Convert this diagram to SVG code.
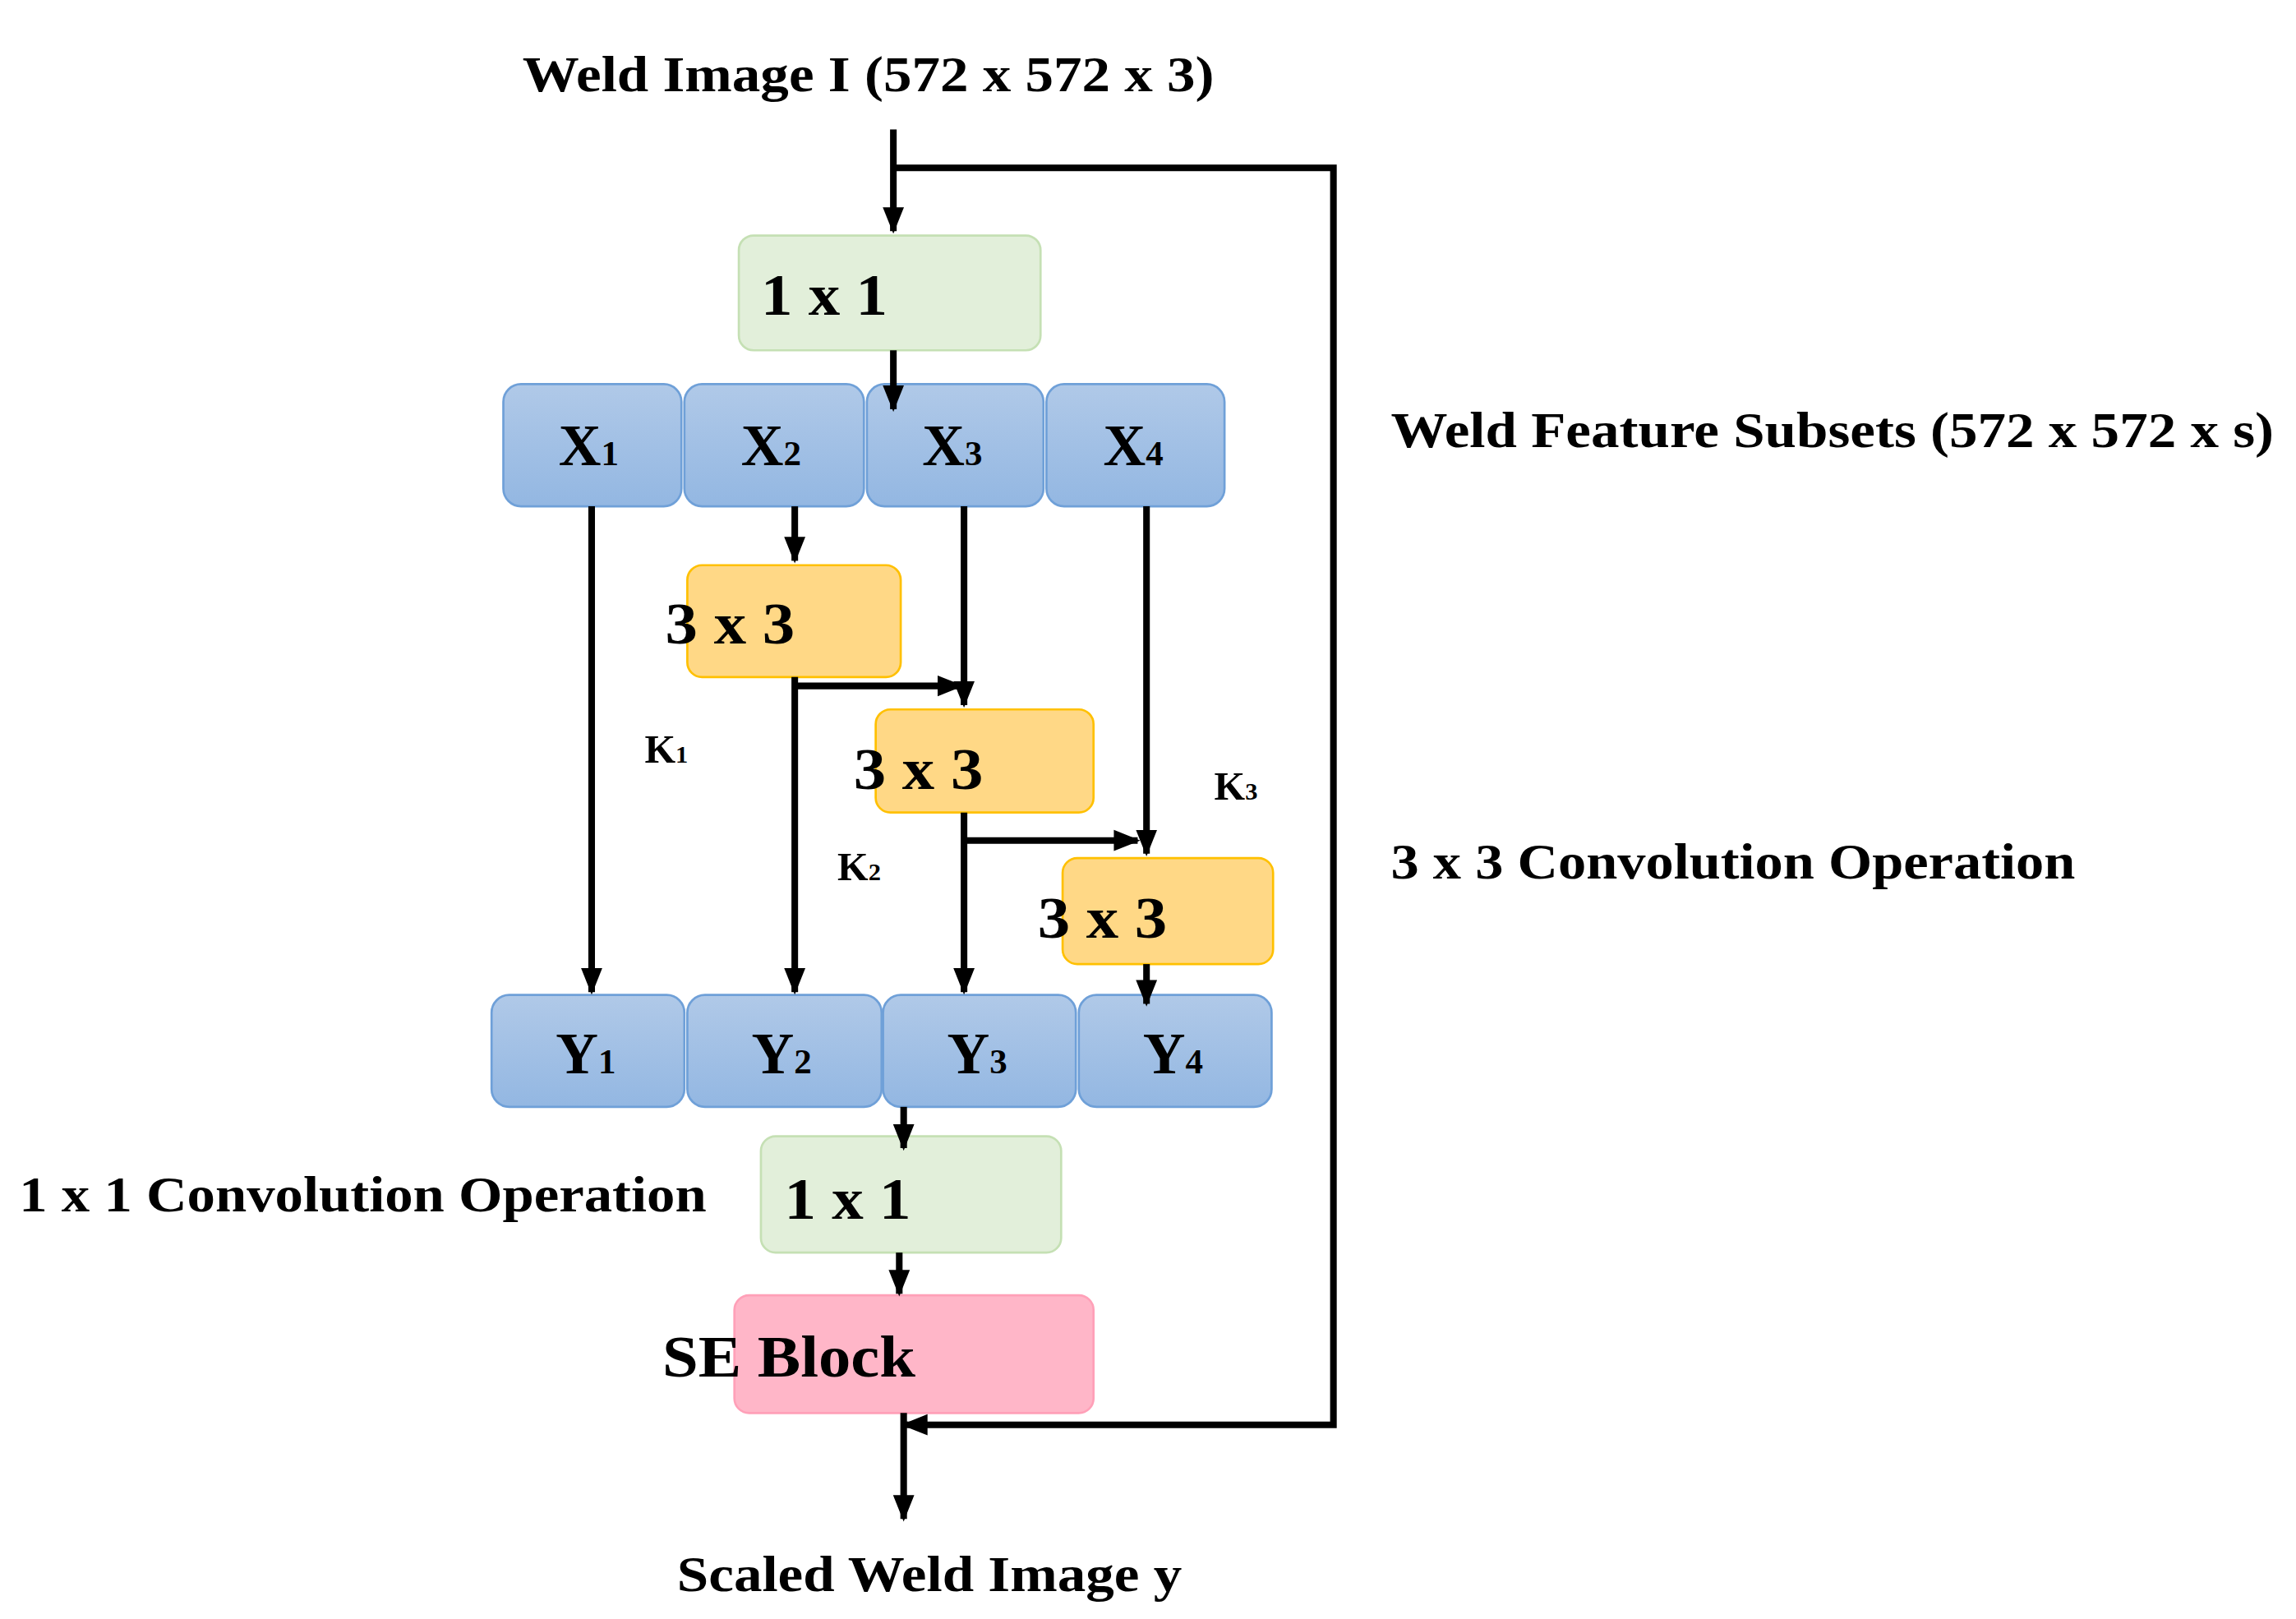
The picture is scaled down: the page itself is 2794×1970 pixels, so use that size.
<svg xmlns="http://www.w3.org/2000/svg" width="2794" height="1970" viewBox="0 0 2794 1970">
<defs>
<linearGradient id="bl" x1="0" y1="0" x2="0" y2="1"><stop offset="0" stop-color="#b0c9e8"/><stop offset="1" stop-color="#93b7e2"/></linearGradient>
<marker id="ah" viewBox="0 0 10 10" refX="9" refY="5" markerWidth="4" markerHeight="4.5" markerUnits="strokeWidth" orient="auto"><path d="M0,1 L10,5 L0,9 z" fill="#000"/></marker>
</defs>
<style>
text{font-family:"Liberation Serif","Times New Roman",serif;font-weight:bold;fill:#000}
.g{fill:#e2efda;stroke:#c5e0b4;stroke-width:1.5}
.b{fill:url(#bl);stroke:#6fa0d8;stroke-width:1.5}
.o{fill:#ffd886;stroke:#ffc000;stroke-width:1.5}
.p{fill:#ffb6c8;stroke:#ffa0b8;stroke-width:1.5}
.c line,.c path{stroke:#000;stroke-width:4.5;fill:none}
.a{marker-end:url(#ah)}
.bt{font-size:40px;text-anchor:middle}
.lb{font-size:34px}
.k{font-size:27px}
</style>
<rect width="2794" height="1970" fill="#fff"/>
<g transform="scale(1.791)">
<g id="labels">
<text class="lb" x="355" y="62" textLength="470" lengthAdjust="spacingAndGlyphs">Weld Image I (572 x 572 x 3)</text>
<text class="lb" x="945" y="304" textLength="600" lengthAdjust="spacingAndGlyphs">Weld Feature Subsets (572 x 572 x s)</text>
<text class="lb" x="945" y="597" textLength="465" lengthAdjust="spacingAndGlyphs">3 x 3 Convolution Operation</text>
<text class="lb" x="13" y="823" textLength="467" lengthAdjust="spacingAndGlyphs">1 x 1 Convolution Operation</text>
<text class="lb" x="460" y="1081" textLength="343" lengthAdjust="spacingAndGlyphs">Scaled Weld Image y</text>
<text class="k" x="438" y="518">K<tspan font-size="17">1</tspan></text>
<text class="k" x="569" y="598">K<tspan font-size="17">2</tspan></text>
<text class="k" x="825" y="543">K<tspan font-size="17">3</tspan></text>
</g>
<g id="conv1"><rect class="g" x="502" y="160" width="205" height="78" rx="10"/><text class="bt" x="560" y="214" text-anchor="start" textLength="86" lengthAdjust="spacingAndGlyphs">1 x 1</text></g>
<g id="X1"><rect class="b" x="342" y="261" width="121" height="83" rx="12"/><text class="bt" x="400" y="316">X<tspan font-size="24">1</tspan></text></g>
<g id="X2"><rect class="b" x="465" y="261" width="122" height="83" rx="12"/><text class="bt" x="524" y="316">X<tspan font-size="24">2</tspan></text></g>
<g id="X3"><rect class="b" x="589" y="261" width="120" height="83" rx="12"/><text class="bt" x="647" y="316">X<tspan font-size="24">3</tspan></text></g>
<g id="X4"><rect class="b" x="711" y="261" width="121" height="83" rx="12"/><text class="bt" x="770" y="316">X<tspan font-size="24">4</tspan></text></g>
<g id="c3a"><rect class="o" x="467" y="384" width="145" height="76" rx="10"/><text class="bt" x="496" y="437" text-anchor="start" textLength="88" lengthAdjust="spacingAndGlyphs">3 x 3</text></g>
<g id="c3b"><rect class="o" x="595" y="482" width="148" height="70" rx="10"/><text class="bt" x="624" y="536" text-anchor="start" textLength="88" lengthAdjust="spacingAndGlyphs">3 x 3</text></g>
<g id="c3c"><rect class="o" x="722" y="583" width="143" height="72" rx="10"/><text class="bt" x="749" y="637" text-anchor="start" textLength="88" lengthAdjust="spacingAndGlyphs">3 x 3</text></g>
<g id="Y1"><rect class="b" x="334" y="676" width="131" height="76" rx="12"/><text class="bt" x="398" y="729">Y<tspan font-size="24">1</tspan></text></g>
<g id="Y2"><rect class="b" x="467" y="676" width="132" height="76" rx="12"/><text class="bt" x="531" y="729">Y<tspan font-size="24">2</tspan></text></g>
<g id="Y3"><rect class="b" x="600" y="676" width="131" height="76" rx="12"/><text class="bt" x="664" y="729">Y<tspan font-size="24">3</tspan></text></g>
<g id="Y4"><rect class="b" x="733" y="676" width="131" height="76" rx="12"/><text class="bt" x="797" y="729">Y<tspan font-size="24">4</tspan></text></g>
<g id="conv2"><rect class="g" x="517" y="772" width="204" height="79" rx="10"/><text class="bt" x="576" y="828" text-anchor="start" textLength="86" lengthAdjust="spacingAndGlyphs">1 x 1</text></g>
<g id="se"><rect class="p" x="499" y="880" width="244" height="80" rx="10"/><text class="bt" x="536" y="935" text-anchor="start" textLength="172" lengthAdjust="spacingAndGlyphs">SE Block</text></g>
<g id="connectors" class="c">
<line class="a" x1="607" y1="88" x2="607" y2="157"/>
<path d="M607,114 H906 V968 H617"/>
<line class="a" x1="617" y1="968" x2="614" y2="968"/>
<line class="a" x1="607" y1="238" x2="607" y2="278"/>
<line class="a" x1="402" y1="344" x2="402" y2="674"/>
<line class="a" x1="540" y1="344" x2="540" y2="381"/>
<line class="a" x1="540" y1="460" x2="540" y2="674"/>
<line class="a" x1="540" y1="466" x2="653" y2="466"/>
<line class="a" x1="655" y1="344" x2="655" y2="479"/>
<line class="a" x1="655" y1="552" x2="655" y2="674"/>
<line class="a" x1="655" y1="571" x2="773" y2="571"/>
<line class="a" x1="779" y1="344" x2="779" y2="580"/>
<line class="a" x1="779" y1="655" x2="779" y2="682"/>
<line class="a" x1="614" y1="752" x2="614" y2="780"/>
<line class="a" x1="611" y1="851" x2="611" y2="879"/>
<line class="a" x1="614" y1="960" x2="614" y2="1032"/>
</g>
</g>
</svg>
